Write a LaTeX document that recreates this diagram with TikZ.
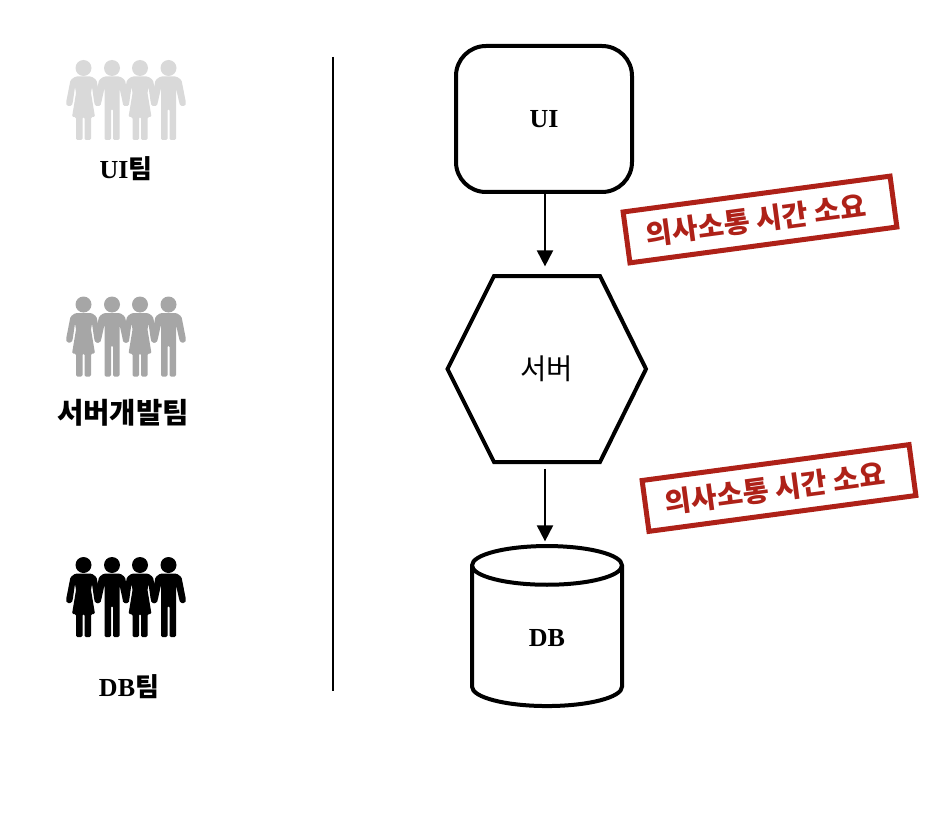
\documentclass[tikz,border=0pt]{standalone}
\usepackage{fontspec}
\setmainfont{Liberation Serif}
\newfontfamily\hangul{Noto Sans CJK KR}
\usetikzlibrary{arrows.meta,shapes.geometric}
\definecolor{stampred}{RGB}{174,33,24}
\tikzset{
	boxline/.style={draw=black, line width=3pt},
	flow/.style={draw=black, line width=1.5pt, -{Triangle[length=12pt,width=12pt]}},
	teamname/.style={font=\fontsize{19.5}{22}\selectfont\bfseries},
	stamp/.style={draw=stampred, line width=3.75pt, text=stampred, rotate=7.65, minimum width=202pt, minimum height=38.5pt, inner sep=0pt, font=\fontsize{21.3}{24}\selectfont\hangul\bfseries}
}
% one figure with a skirt, one without; head centre at (#2,#3)
\def\womanfig[#1](#2,#3){
	\begin{scope}[shift={(#2,#3)}]
		\fill[#1] (0,0) circle (8);
		\fill[#1,rounded corners=1pt] (-8,8.5) -- (-13,12) -- (-17.5,35) -- (-16.5,38) -- (-12,38) -- (-10.8,35) -- (-8.5,19) -- (-7.5,25) -- (-11.5,49) -- (-7.5,49) -- (-7.5,72) -- (-1,72) -- (-1,49) -- (1,49) -- (1,72) -- (7.5,72) -- (7.5,49) -- (11.5,49) -- (7.5,25) -- (8.5,19) -- (10.8,35) -- (12,38) -- (16.5,38) -- (17.5,35) -- (13,12) -- (8,8.5) -- cycle;
	\end{scope}
}
\def\manfig[#1](#2,#3){
	\begin{scope}[shift={(#2,#3)}]
		\fill[#1] (0,0) circle (8);
		\fill[#1,rounded corners=1pt] (-8,8.5) -- (-13,12) -- (-17.5,35) -- (-16.5,38) -- (-12,38) -- (-10.8,35) -- (-7.5,20) -- (-7.5,72) -- (-1,72) -- (-1,41) -- (1,41) -- (1,72) -- (7.5,72) -- (7.5,20) -- (10.8,35) -- (12,38) -- (16.5,38) -- (17.5,35) -- (13,12) -- (8,8.5) -- cycle;
	\end{scope}
}
\def\teamrow[#1](#2){
	\womanfig[#1](83.5,#2)
	\manfig[#1](112,#2)
	\womanfig[#1](140,#2)
	\manfig[#1](168.5,#2)
}

\begin{document}
\begin{tikzpicture}[x=0.75pt,y=-0.75pt]
	\useasboundingbox (0,0) rectangle (946,820);
	
	%%%%% teams %%%%%
	\teamrow[black!15](68)
	\teamrow[black!35](304.5)
	\teamrow[black](565)
	
	\node[teamname] (uiteam) at (126,168.5) {UI{\hangul 팀}};
	\node[teamname, font=\fontsize{21.5}{24}\selectfont\bfseries] (serverteam) at (123,412.5) {\hangul 서버개발팀};
	\node[teamname] (dbteam) at (129,686.5) {DB{\hangul 팀}};
	
	\coordinate (splittop) at (333,57);
	\coordinate (splitbottom) at (333,691);
	\draw[line width=1.5pt] (splittop) -- (splitbottom);
	
	%%%%% layers %%%%%
	\node[boxline, rounded corners=22.5pt, minimum width=132pt, minimum height=109.5pt, font=\fontsize{19.5}{22}\selectfont\bfseries] (ui) at (544,119) {\raisebox{-0.7pt}{UI}};
	
	\node[minimum width=148.5pt, minimum height=139.5pt, inner sep=0pt, font=\fontsize{21.5}{24}\selectfont\hangul] (server) at (546.5,369) {서버};
	\draw[line width=3pt] (447.5,369) -- (494,276) -- (600,276) -- (646,369) -- (600,462) -- (494,462) -- cycle;
	
	\node[boxline, cylinder, shape border rotate=90, aspect=0.86, minimum width=112.5pt, minimum height=120pt, font=\fontsize{19.5}{22}\selectfont\bfseries] (db) at (547,640) {\raisebox{3.7pt}{DB}};
	
	\draw[flow, shorten >=7pt] (ui.south -| 545,0) -- (server.north -| 545,0);
	\draw[flow, shorten <=5pt, shorten >=2pt] (server.south -| 545,0) -- (db.north -| 545,0);
	
	\node[stamp] (stampone) at (760,219.5) {의사소통 시간 소요\kern6pt};
	\node[stamp] (stamptwo) at (779,488) {의사소통 시간 소요\kern6pt};
\end{tikzpicture}
\end{document}
